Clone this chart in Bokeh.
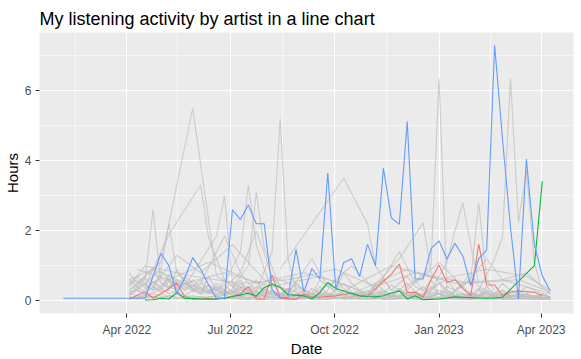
import numpy as np
import pandas as pd
from bokeh.plotting import figure
from bokeh.models import Range1d, FixedTicker, DatetimeTickFormatter, Title
from bokeh.embed import file_html
from bokeh.resources import INLINE

# ---------------- data ----------------
week_start = "2022-04-03"          # first weekly bucket (weeks counted from here)
blue_first_date = "2022-02-04"     # single early listening point of the blue artist

# highlighted artists: weekly hours from week 0
blue_first_hours = 0.07
blue_hours = [0.07, 0.07, 0.07, 0.7, 1.35, 1.0, 0.2, 0.65, 1.23, 0.9, 0.45, 0.07, 0.07, 2.6,
              2.32, 2.74, 2.2, 2.2, 0.3, 0.08, 0.1, 1.47, 0.24, 0.92, 0.62, 3.65, 0.33, 1.09,
              1.2, 0.69, 1.61, 1.0, 3.79, 2.37, 2.18, 5.12, 0.62, 0.62, 1.49, 1.71, 1.19, 1.64,
              1.28, 0.43, 1.2, 1.45, 7.3, 4.6, 2.1, 0.05, 4.05, 1.6, 0.71, 0.28]
red_hours = [0.05, 0.15, 0.26, 0.07, 0.2, 0.35, 0.5, 0.12, 0.05, 0.05, 0.06, 0.05, 0.08, 0.12,
             0.2, 0.4, 0.05, 0.05, 0.73, 0.08, 0.06, 0.04, 0.2, 0.1, 0.1, 0.12, 0.14, 0.18, 0.22,
             0.15, 0.12, 0.33, 0.55, 0.76, 1.05, 0.24, 0.24, 0.1, 0.6, 1.02, 0.52, 0.6, 0.35,
             0.14, 1.62, 0.45, 0.45, 0.14, 0.25, 0.28, 0.26, 0.24, 0.14]
green_weeks = [2, 3, 4, 5, 6, 7, 8, 9, 10, 11, 12, 13, 14, 15, 16, 17, 18, 19, 20, 21, 22, 23,
               24, 25, 26, 27, 28, 29, 30, 31, 32, 33, 34, 35, 36, 37, 38, 39, 40, 41, 42, 43,
               44, 45, 46, 47, 51, 52]
green_hours = [0.02, 0.03, 0.07, 0.05, 0.24, 0.07, 0.06, 0.05, 0.05, 0.05, 0.07, 0.12, 0.16,
               0.22, 0.13, 0.38, 0.47, 0.38, 0.17, 0.16, 0.14, 0.05, 0.23, 0.52, 0.35, 0.28,
               0.2, 0.14, 0.12, 0.11, 0.14, 0.22, 0.28, 0.05, 0.14, 0.03, 0.04, 0.05, 0.08,
               0.11, 0.1, 0.09, 0.08, 0.07, 0.08, 0.1, 1.0, 3.41]

# other artists, sparse (week, hours) with spikes
grey_s01_w = [0, 4, 8, 11, 14];            grey_s01_h = [0.3, 1.1, 5.5, 0.7, 0.3]
grey_s02_w = [2, 5, 9, 10, 12, 15];        grey_s02_h = [0.4, 1.9, 3.3, 1.8, 0.6, 0.3]
grey_s03_w = [0, 2, 3, 4, 6];              grey_s03_h = [0.2, 0.6, 2.6, 0.5, 0.3]
grey_s04_w = [1, 4, 5, 6, 8];              grey_s04_h = [0.3, 0.9, 2.2, 0.8, 0.4]
grey_s05_w = [7, 10, 11, 12, 13, 15];      grey_s05_h = [0.4, 1.5, 1.85, 3.0, 0.5, 0.3]
grey_s06_w = [12, 14, 15, 16, 17, 18];     grey_s06_h = [0.5, 1.4, 3.3, 1.6, 0.9, 0.3]
grey_s07_w = [13, 15, 16, 17, 19];         grey_s07_h = [0.4, 1.0, 3.1, 1.5, 0.4]
grey_s08_w = [16, 18, 19, 20, 21];         grey_s08_h = [0.3, 1.4, 5.2, 1.2, 0.3]
grey_s09_w = [19, 27, 30, 31, 33, 36];     grey_s09_h = [0.9, 3.5, 2.2, 1.0, 0.3, 0.2]
grey_s10_w = [35, 38, 39, 40, 41];         grey_s10_h = [0.3, 1.0, 6.35, 0.3, 0.2]
grey_s11_w = [44, 46, 47, 48, 49, 50, 51, 52]
grey_s11_h = [0.3, 1.2, 1.85, 6.35, 2.23, 3.74, 1.09, 0.3]
grey_s12_w = [38, 40, 41, 42, 43, 44];     grey_s12_h = [0.3, 1.1, 2.0, 2.8, 1.6, 0.5]
grey_s13_w = [41, 43, 44, 45, 46];         grey_s13_h = [0.3, 0.6, 2.8, 0.6, 0.3]
grey_s14_w = [30, 34, 37, 38, 40];         grey_s14_h = [0.2, 1.2, 2.23, 0.8, 0.3]
grey_s15_w = [3, 6, 9, 13, 17, 20];        grey_s15_h = [0.4, 1.3, 0.8, 1.6, 0.6, 0.3]
grey_s16_w = [9, 12, 14, 16, 18, 22];      grey_s16_h = [0.5, 1.85, 0.8, 2.0, 0.7, 0.3]
grey_s17_w = [0, 3, 7, 12, 18, 24, 29, 35, 41, 47, 53]
grey_s17_h = [0.6, 0.9, 0.5, 0.8, 0.4, 0.7, 0.3, 0.9, 0.5, 0.6, 0.2]
grey_s18_w = [1, 5, 10, 16, 22, 28, 33, 39, 45, 50, 53]
grey_s18_h = [0.9, 0.6, 1.1, 0.5, 0.8, 0.4, 1.0, 0.6, 0.9, 0.7, 0.3]
grey_s19_w = [0, 2, 8, 14, 20, 26, 31, 36, 43, 49, 53]
grey_s19_h = [0.4, 1.0, 0.7, 0.5, 0.6, 0.9, 0.4, 0.8, 0.5, 0.6, 0.25]
grey_s20_w = [20, 23, 25, 28, 31, 34, 36, 39, 42, 45, 47, 50, 53]
grey_s20_h = [0.2, 1.2, 0.4, 1.0, 0.3, 1.4, 0.5, 1.1, 0.4, 1.2, 0.6, 0.8, 0.2]

# other artists, weekly hours (first week given)
grey_l01_start = 0
grey_l01 = [0.45, 0.6, 0.35, 0.5, 0.7, 0.4, 0.55, 0.3, 0.45, 0.25, 0.3, 0.2, 0.25, 0.15, 0.3, 0.2,
            0.1, 0.25, 0.15, 0.2, 0.1, 0.15, 0.3, 0.2, 0.1, 0.15, 0.2, 0.1, 0.25, 0.15, 0.1, 0.2,
            0.3, 0.15, 0.1, 0.2, 0.15, 0.1, 0.25, 0.2, 0.1, 0.15, 0.2, 0.1, 0.3, 0.15, 0.1, 0.2,
            0.15, 0.1, 0.2, 0.1, 0.15, 0.1]
grey_l02_start = 0
grey_l02 = [0.8, 0.5, 0.65, 0.4, 0.3, 0.55, 0.35, 0.6, 0.25, 0.4, 0.2, 0.35, 0.15, 0.25, 0.1, 0.2,
            0.3, 0.15, 0.1, 0.2, 0.15, 0.1, 0.05, 0.1, 0.2, 0.15, 0.1, 0.05, 0.1, 0.15, 0.2, 0.1,
            0.05, 0.1, 0.15, 0.1, 0.2, 0.1, 0.05, 0.1, 0.15, 0.1, 0.05, 0.1, 0.2, 0.1, 0.15, 0.05,
            0.1, 0.15, 0.1, 0.05, 0.1, 0.05]
grey_l03_start = 0
grey_l03 = [0.3, 0.45, 0.7, 0.95, 0.5, 0.35, 0.6, 0.4, 0.3, 0.5, 0.25, 0.15, 0.3, 0.2, 0.35, 0.15,
            0.25, 0.1, 0.3, 0.2, 0.15, 0.35, 0.2, 0.1, 0.25, 0.15, 0.3, 0.2, 0.1, 0.15, 0.25, 0.35,
            0.2, 0.15, 0.3, 0.2, 0.1, 0.15, 0.4, 0.2, 0.15, 0.25, 0.1, 0.2, 0.15, 0.3, 0.2, 0.1,
            0.15, 0.2, 0.1, 0.15, 0.1, 0.05]
grey_l04_start = 0
grey_l04 = [0.2, 0.35, 0.5, 0.3, 0.85, 0.6, 0.4, 0.7, 0.5, 0.3, 0.45, 0.25, 0.6, 0.4, 0.2, 0.3,
            0.15, 0.35, 0.2, 0.1, 0.25, 0.5, 0.3, 0.15, 0.4, 0.2, 0.1, 0.2, 0.15, 0.3, 0.1, 0.15,
            0.2, 0.1, 0.35, 0.15, 0.25, 0.4, 0.2, 0.1, 0.3, 0.15, 0.2, 0.1, 0.15, 0.25, 0.1, 0.2,
            0.15, 0.1, 0.05, 0.1, 0.15, 0.1]
grey_l05_start = 0
grey_l05 = [0.6, 0.4, 0.25, 0.55, 0.35, 0.75, 0.5, 0.3, 0.6, 0.35, 0.2, 0.5, 0.3, 0.15, 0.2, 0.4,
            0.25, 0.1, 0.2, 0.15, 0.3, 0.1, 0.15, 0.2, 0.3, 0.5, 0.2, 0.15, 0.1, 0.25, 0.15, 0.1,
            0.2, 0.45, 0.3, 0.15, 0.2, 0.1, 0.15, 0.3, 0.2, 0.1, 0.15, 0.2, 0.1, 0.25, 0.15, 0.3,
            0.1, 0.2, 0.15, 0.1, 0.2, 0.1]
grey_l06_start = 0
grey_l06 = [0.15, 0.3, 0.2, 0.4, 0.25, 0.3, 0.9, 0.5, 0.35, 0.2, 0.7, 0.3, 0.45, 0.25, 0.5, 0.3,
            0.6, 0.2, 0.3, 0.15, 0.1, 0.2, 0.15, 0.35, 0.2, 0.1, 0.3, 0.5, 0.25, 0.2, 0.15, 0.5,
            0.3, 0.2, 0.1, 0.4, 0.6, 0.3, 0.15, 0.2, 0.1, 0.3, 0.4, 0.2, 0.15, 0.1, 0.2, 0.3, 0.15,
            0.1, 0.2, 0.1, 0.05, 0.1]
grey_l07_start = 0
grey_l07 = [0.1, 0.05, 0.15, 0.1, 0.2, 0.1, 0.05, 0.15, 0.1, 0.05, 0.1, 0.15, 0.05, 0.1, 0.05,
            0.08, 0.12, 0.05, 0.1, 0.06, 0.04, 0.08, 0.1, 0.05, 0.07, 0.04, 0.09, 0.05, 0.06, 0.1,
            0.05, 0.08, 0.04, 0.06, 0.1, 0.05, 0.07, 0.04, 0.08, 0.06, 0.05, 0.1, 0.04, 0.06, 0.08,
            0.05, 0.07, 0.04, 0.06, 0.05, 0.08, 0.04, 0.06, 0.05]
grey_l08_start = 0
grey_l08 = [0.05, 0.1, 0.08, 0.12, 0.06, 0.15, 0.1, 0.08, 0.05, 0.12, 0.06, 0.04, 0.09, 0.06, 0.1,
            0.05, 0.04, 0.07, 0.1, 0.05, 0.08, 0.04, 0.06, 0.1, 0.05, 0.04, 0.07, 0.1, 0.05, 0.08,
            0.06, 0.04, 0.1, 0.07, 0.05, 0.08, 0.04, 0.06, 0.1, 0.05, 0.07, 0.04, 0.08, 0.05, 0.06,
            0.1, 0.04, 0.07, 0.05, 0.08, 0.06, 0.04, 0.05, 0.03]
grey_l09_start = 0
grey_l09 = [0.2, 0.15, 0.1, 0.2, 0.12, 0.08, 0.18, 0.1, 0.14, 0.07, 0.12, 0.1, 0.16, 0.08, 0.12,
            0.06, 0.1, 0.14, 0.08, 0.12, 0.06, 0.1, 0.08, 0.12, 0.15, 0.08, 0.1, 0.06, 0.12, 0.09,
            0.14, 0.07, 0.1, 0.12, 0.08, 0.15, 0.1, 0.06, 0.12, 0.08, 0.1, 0.14, 0.07, 0.1, 0.12,
            0.08, 0.1, 0.06, 0.12, 0.09, 0.1, 0.07, 0.1, 0.08]
grey_l10_start = 2
grey_l10 = [0.3, 0.55, 0.4, 0.65, 0.3, 0.5, 0.35, 0.2, 0.45, 0.3, 0.15, 0.25, 0.4, 0.2, 0.1, 0.3,
            0.2, 0.15, 0.35, 0.25, 0.1, 0.2, 0.15, 0.3, 0.6, 0.35, 0.2, 0.1, 0.15, 0.25, 0.2, 0.1,
            0.3, 0.15, 0.1, 0.2, 0.35, 0.5, 0.2, 0.15, 0.1, 0.25, 0.15, 0.4, 0.2, 0.1, 0.15, 0.1,
            0.2, 0.1]
grey_l11_start = 0
grey_l11 = [0.5, 0.7, 0.45, 0.3, 0.4, 0.6, 0.3, 0.5, 0.4, 0.6, 0.3, 0.4, 0.2, 0.35, 0.6, 0.25,
            0.4, 0.3, 0.5, 0.2, 0.35, 0.25, 0.15, 0.1, 0.2, 0.1, 0.15, 0.25, 0.4, 0.2, 0.3, 0.15,
            0.1, 0.2, 0.3, 0.5, 0.25, 0.15, 0.3, 0.5, 0.6, 0.3, 0.2, 0.15, 0.35, 0.2, 0.1, 0.15,
            0.2, 0.3, 0.15, 0.1, 0.2, 0.1]
grey_l12_start = 10
grey_l12 = [0.2, 0.4, 0.3, 0.6, 0.8, 0.5, 0.3, 0.5, 0.7, 0.4, 0.25, 0.5, 0.3, 0.2, 0.6, 0.4,
            0.3, 0.8, 0.5, 0.3, 0.2, 0.4, 0.6, 0.3, 0.5, 0.7, 0.4, 0.3, 0.6, 0.2, 0.4, 0.3, 0.5,
            0.8, 0.4, 0.3, 0.2, 0.5, 0.3, 0.2, 0.4, 0.3, 0.2, 0.1]
grey_l13_start = 0
grey_l13 = [0.12, 0.08, 0.2, 0.1, 0.06, 0.14, 0.08, 0.05, 0.1, 0.12, 0.07, 0.05, 0.1, 0.08, 0.04,
            0.06, 0.1, 0.05, 0.03, 0.07, 0.09, 0.05, 0.12, 0.06, 0.04, 0.08, 0.05, 0.1, 0.07, 0.04,
            0.06, 0.09, 0.05, 0.03, 0.08, 0.06, 0.1, 0.05, 0.04, 0.07, 0.09, 0.05, 0.06, 0.03,
            0.08, 0.05, 0.07, 0.1, 0.04, 0.06, 0.05, 0.08, 0.04, 0.05]
grey_l14_start = 0
grey_l14 = [0.25, 0.3, 0.18, 0.22, 0.35, 0.2, 0.28, 0.15, 0.3, 0.2, 0.25, 0.12, 0.2, 0.3, 0.15,
            0.1, 0.22, 0.18, 0.25, 0.12, 0.2, 0.15, 0.1, 0.18, 0.12, 0.22, 0.15, 0.3, 0.18, 0.1,
            0.2, 0.15, 0.25, 0.12, 0.18, 0.1, 0.22, 0.15, 0.12, 0.2, 0.25, 0.15, 0.1, 0.18, 0.12,
            0.2, 0.15, 0.22, 0.1, 0.18, 0.12, 0.15, 0.1, 0.08]

# axis breaks
x_breaks = ["2022-04-01", "2022-07-01", "2022-10-01", "2023-01-01", "2023-04-01"]
x_minor_breaks = ["2022-02-15", "2022-05-16", "2022-08-16", "2022-11-16", "2023-02-15"]
y_breaks = [0, 2, 4, 6]
y_minor_breaks = [1, 3, 5, 7]
x_limits = ["2022-01-14", "2023-04-29 12:00"]
y_limits = [-0.365, 7.665]

title_text = "My listening activity by artist in a line chart"
x_label = "Date"
y_label = "Hours"

# ---------------- helpers ----------------
base = pd.Timestamp(week_start)


def week_dates(weeks):
    return [base + pd.Timedelta(days=7 * int(w)) for w in weeks]


def ms(s):
    return pd.Timestamp(s).value / 1e6


FONT = "Liberation Sans"
GREY_LINE = "#BEBEBE"

p = figure(width=581, height=359, x_axis_type="datetime",
           output_backend="svg", toolbar_location=None,
           x_range=Range1d(pd.Timestamp(x_limits[0]), pd.Timestamp(x_limits[1])),
           y_range=Range1d(y_limits[0], y_limits[1]),
           min_border_left=39, min_border_right=8, min_border_top=32, min_border_bottom=46)

p.title.text = title_text
p.title.text_font = FONT
p.title.text_font_size = "18px"
p.title.text_font_style = "normal"
p.title.text_color = "black"
p.title.align = "left"
p.title.standoff = 8

p.background_fill_color = "#EBEBEB"
p.border_fill_color = "white"
p.outline_line_color = None

# grids
for g in (p.xgrid, p.ygrid):
    g.grid_line_color = "white"
    g.grid_line_width = 1.07
    g.minor_grid_line_color = "white"
    g.minor_grid_line_width = 0.55

p.xaxis.ticker = FixedTicker(ticks=[ms(d) for d in x_breaks],
                             minor_ticks=[ms(d) for d in x_minor_breaks])
p.yaxis.ticker = FixedTicker(ticks=y_breaks, minor_ticks=y_minor_breaks)
fmt = "%b %Y"
p.xaxis.formatter = DatetimeTickFormatter(microseconds=fmt, milliseconds=fmt, seconds=fmt,
                                          minsec=fmt, minutes=fmt, hourmin=fmt, hours=fmt,
                                          days=fmt, months=fmt, years=fmt)

for ax in (p.xaxis, p.yaxis):
    ax.axis_line_color = None
    ax.major_tick_line_color = "#333333"
    ax.major_tick_line_width = 1.07
    ax.major_tick_out = 4
    ax.major_tick_in = 0
    ax.minor_tick_line_color = None
    ax.major_label_text_font = FONT
    ax.major_label_text_font_size = "12px"
    ax.major_label_text_color = "#4D4D4D"
    ax.axis_label_text_font = FONT
    ax.axis_label_text_font_size = "15px"
    ax.axis_label_text_font_style = "normal"
    ax.axis_label_text_color = "black"

p.yaxis.axis_label = y_label
p.xaxis.major_label_standoff = 5
p.yaxis.major_label_standoff = 4
p.yaxis.axis_label_standoff = 1

p.add_layout(Title(text=x_label, align="center", text_font=FONT, text_font_size="15px",
                   text_font_style="normal", text_color="black", standoff=0,
                   vertical_align="top"), "below")

# grey (non highlighted) artists
sparse = [(grey_s01_w, grey_s01_h), (grey_s02_w, grey_s02_h), (grey_s03_w, grey_s03_h),
          (grey_s04_w, grey_s04_h), (grey_s05_w, grey_s05_h), (grey_s06_w, grey_s06_h),
          (grey_s07_w, grey_s07_h), (grey_s08_w, grey_s08_h), (grey_s09_w, grey_s09_h),
          (grey_s10_w, grey_s10_h), (grey_s11_w, grey_s11_h), (grey_s12_w, grey_s12_h),
          (grey_s13_w, grey_s13_h), (grey_s14_w, grey_s14_h), (grey_s15_w, grey_s15_h),
          (grey_s16_w, grey_s16_h), (grey_s17_w, grey_s17_h), (grey_s18_w, grey_s18_h),
          (grey_s19_w, grey_s19_h), (grey_s20_w, grey_s20_h)]
dense = [(grey_l01_start, grey_l01), (grey_l02_start, grey_l02), (grey_l03_start, grey_l03),
         (grey_l04_start, grey_l04), (grey_l05_start, grey_l05), (grey_l06_start, grey_l06),
         (grey_l07_start, grey_l07), (grey_l08_start, grey_l08), (grey_l09_start, grey_l09),
         (grey_l10_start, grey_l10), (grey_l11_start, grey_l11), (grey_l12_start, grey_l12),
         (grey_l13_start, grey_l13), (grey_l14_start, grey_l14)]

for start, vals in dense:
    p.line(week_dates(range(start, start + len(vals))), vals,
           line_color=GREY_LINE, line_alpha=0.7, line_width=1.1)
for wk, vals in sparse:
    p.line(week_dates(wk), vals, line_color=GREY_LINE, line_alpha=0.7, line_width=1.1)

# highlighted artists
p.line(week_dates(range(len(red_hours))), red_hours, line_color="#F8766D", line_width=1.1)
p.line(week_dates(green_weeks), green_hours, line_color="#00BA38", line_width=1.1)
blue_x = [pd.Timestamp(blue_first_date)] + week_dates(range(len(blue_hours)))
blue_y = [blue_first_hours] + blue_hours
p.line(blue_x, blue_y, line_color="#619CFF", line_width=1.1)

open("out.html", "w").write(file_html(p, INLINE))
